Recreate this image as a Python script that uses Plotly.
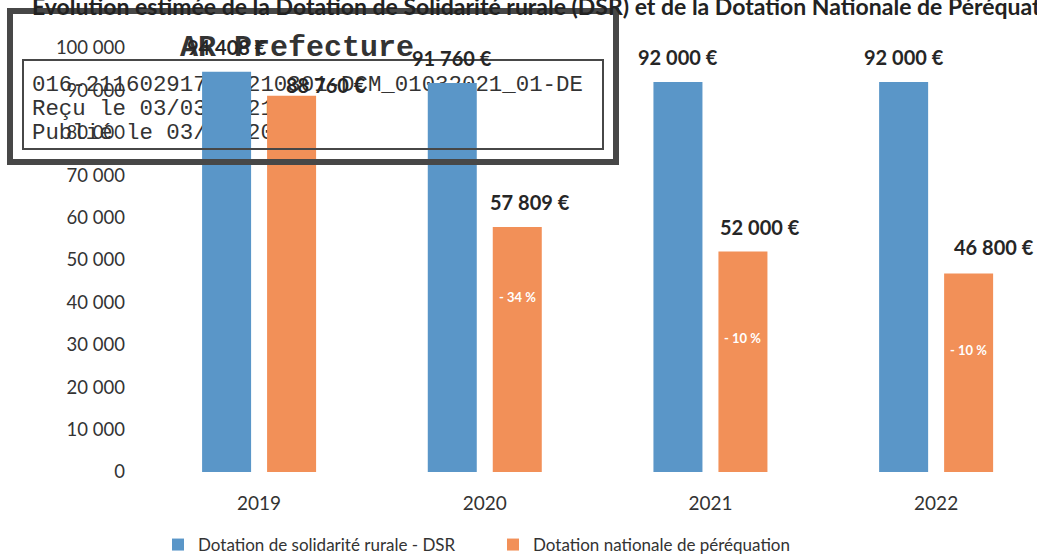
import plotly.graph_objects as go

# ---------------- data ----------------
YEARS = ["2019", "2020", "2021", "2022"]
DSR = [94408, 91760, 92000, 92000]
DNP = [88760, 57809, 52000, 46800]
DNP_CHANGE = ["", "- 34 %", "- 10 %", "- 10 %"]
SERIES_NAMES = ["Dotation de solidarité rurale - DSR", "Dotation nationale de péréquation"]
Y_TICKS = [0, 10000, 20000, 30000, 40000, 50000, 60000, 70000, 80000, 90000, 100000]
Y_TICK_LABELS = ["0", "10 000", "20 000", "30 000", "40 000", "50 000",
                 "60 000", "70 000", "80 000", "90 000", "100 000"]
TITLE = "Evolution estimée de la Dotation de Solidarité rurale (DSR) et de la Dotation Nationale de Péréquation (DNP)"
STAMP_TITLE = "AR Prefecture"
STAMP_LINES = ["016-211602917-20210301-DCM_01032021_01-DE",
               "Reçu le 03/03/2021",
               "Publié le 03/03/2021"]

# ---------------- layout helpers (pixels -> paper) ----------------
W, H = 1037, 559
L, R, T, B = 130, 1037, 48, 472
def px(x):
    return (x - L) / (R - L)
def py(y):
    return (B - y) / (B - T)

BLUE = "#5a96c8"
ORANGE = "#f29058"
FONT = "Lato"

def eur(v):
    return f"{v:,}".replace(",", " ") + " €"

fig = go.Figure()
fig.add_trace(go.Bar(x=YEARS, y=DSR, name=SERIES_NAMES[0], marker_color=BLUE,
                     marker_line_width=0))
fig.add_trace(go.Bar(x=YEARS, y=DNP, name=SERIES_NAMES[1], marker_color=ORANGE,
                     marker_line_width=0))

annotations = []
# value labels (x given as category index)
half = 32.5
orange_dx = [34, 13, 17, 25]
orange_dy = [11, 25, 25, 27]
LABEL_FONT = dict(family=FONT, size=20, color="#262626", weight="bold")
for i in range(len(YEARS)):
    annotations.append(dict(x=i, y=DSR[i], xref="x", yref="y", text=eur(DSR[i]),
                            showarrow=False, xshift=-half, yshift=25, yanchor="middle",
                            font=LABEL_FONT))
    annotations.append(dict(x=i, y=DNP[i], xref="x", yref="y", text=eur(DNP[i]),
                            showarrow=False, xshift=half + orange_dx[i], yshift=orange_dy[i],
                            yanchor="middle", font=LABEL_FONT))
# percentage labels inside orange bars
pct_dy = [0, -70, -86, -76]
for i in range(len(YEARS)):
    if DNP_CHANGE[i]:
        annotations.append(dict(x=i, y=DNP[i], xref="x", yref="y", text=DNP_CHANGE[i],
                                showarrow=False, xshift=half, yshift=pct_dy[i], yanchor="middle",
                                font=dict(family=FONT, size=13, color="white", weight="bold")))
# title (partly cut by the top of the page, as in the scan)
annotations.append(dict(x=px(30), y=py(6), xref="paper", yref="paper", text=TITLE,
                        showarrow=False, xanchor="left", yanchor="middle",
                        font=dict(family=FONT, size=23, color="#222222", weight="bold")))

shapes = [
    # stamp outer frame
    dict(type="rect", xref="paper", yref="paper", x0=px(10), x1=px(616), y0=py(162), y1=py(11),
         line=dict(color="#474747", width=6), layer="above"),
    # stamp inner frame
    dict(type="rect", xref="paper", yref="paper", x0=px(23), x1=px(603), y0=py(149), y1=py(60),
         line=dict(color="#474747", width=2), layer="above"),
    # stamp title
    dict(type="rect", xref="paper", yref="paper", x0=px(150), x1=px(444), y0=py(57), y1=py(29),
         line=dict(width=0), layer="below",
         label=dict(text=STAMP_TITLE, textposition="middle center", padding=0,
                    font=dict(family="Liberation Mono", size=30, color="#333333", weight="bold"))),
]
line_y = [82, 106, 130]
for txt, yc in zip(STAMP_LINES, line_y):
    shapes.append(dict(type="rect", xref="paper", yref="paper", x0=px(29), x1=px(600),
                       y0=py(yc + 10), y1=py(yc - 10), line=dict(width=0), layer="below",
                       label=dict(text=txt, textposition="middle left", padding=0,
                                  font=dict(family="Liberation Mono", size=22.4, color="#333333"))))

fig.update_layout(
    width=W, height=H,
    margin=dict(l=L, r=W - R, t=T, b=H - B, pad=0, autoexpand=False),
    paper_bgcolor="white", plot_bgcolor="white",
    barmode="group", bargap=0.424, bargroupgap=0.246,
    font=dict(family=FONT, color="#333333"),
    showlegend=True,
    legend=dict(orientation="h", xref="container", yref="container",
                x=158 / W, xanchor="left", y=1 - 545 / H, yanchor="middle",
                entrywidth=290, font=dict(family=FONT, size=17, color="#333333"),
                bgcolor="rgba(0,0,0,0)", traceorder="normal"),
    annotations=annotations,
    shapes=shapes,
)
fig.update_xaxes(type="category", range=[-0.572, 3.447], showgrid=False, showline=False,
                 zeroline=False, ticks="outside", ticklen=14, tickcolor="rgba(0,0,0,0)",
                 tickfont=dict(family=FONT, size=19, color="#333333"))
fig.update_yaxes(range=[0, 100000], tickvals=Y_TICKS, ticktext=Y_TICK_LABELS,
                 showgrid=False, showline=False, zeroline=False, ticks="",
                 ticklabelstandoff=4,
                 tickfont=dict(family=FONT, size=18.5, color="#333333"))

fig.write_html("out.html", config={"displayModeBar": False},
               post_script="document.body.style.margin='0';")
